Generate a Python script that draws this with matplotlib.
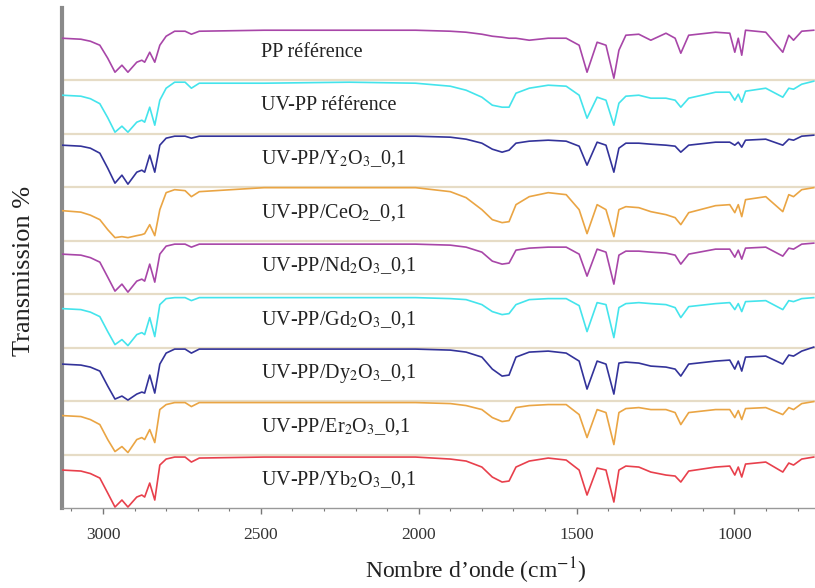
import numpy as np
import matplotlib
matplotlib.use('Agg')
import matplotlib.pyplot as plt
from matplotlib.ticker import MultipleLocator

plt.rcParams['font.family'] = ['Liberation Serif', 'DejaVu Serif']
plt.rcParams['mathtext.fontset'] = 'stix'

# wavenumber grid (cm-1) of the points
wavenumber = [3130, 3070, 3040, 3010, 2985, 2962, 2940, 2921, 2893, 2877, 2868, 2852, 2836, 2820, 2800,
              2773, 2740, 2720, 2695, 2490, 2220, 2010, 1900, 1850, 1800, 1767, 1736, 1714,
              1692, 1650, 1590, 1533, 1492, 1467, 1435, 1407, 1382, 1366, 1344, 1303, 1265,
              1217, 1188, 1170, 1145, 1060, 1015, 999, 988, 977, 965, 901, 847, 828, 813,
              787, 749]

# transmission (a.u.) of each sample, without the vertical offset
pp_ref = [42, 41, 39, 35, 22, 8, 15, 8, 18, 20, 18, 28, 18, 35, 44,
          49, 49, 46, 49, 50, 50, 50, 49, 48, 46, 44, 43, 42,
          42, 40, 42, 42, 35, 8, 38, 35, 2, 30, 45, 46, 40,
          47, 42, 27, 45, 48, 47, 28, 42, 25, 50, 48, 28, 45, 40,
          49, 50]
uvpp_ref = [38.5, 37.5, 35, 30, 16, 1.5, 7.5, 1.5, 11.5, 13.5, 11.5, 26.5, 8.5, 33.5, 45.5,
            51.5, 51.5, 45.5, 50.5, 50.5, 51.5, 50.5, 47.5, 43.5, 36.5, 28.5, 26.5, 26.5,
            40.5, 45.5, 48.5, 47.5, 38.5, 15.5, 36.5, 33.5, 8.5, 30.5, 37.5, 38.5, 35.5,
            35.5, 33.5, 26.5, 35.5, 41.5, 41.5, 33.5, 39.5, 31.5, 42.5, 45.5, 36.5, 45.5, 44.5,
            49.5, 52.5]
uvpp_y = [42, 41, 39, 34, 19, 4, 12, 3, 15, 17, 15, 32, 15, 42, 49,
          51, 51, 49, 51, 51, 51, 51, 50, 48, 44, 38, 35, 37,
          44, 46, 47, 46, 41, 22, 45, 42, 15, 39, 44, 44, 43,
          42, 41, 35, 42, 45, 45, 42, 45, 40, 47, 48, 42, 48, 47,
          51, 52]
uvpp_ce = [30, 28.5, 25.5, 21, 11, 3, 4, 3, 5, 6, 7, 16, 5, 31, 48,
           51, 50, 44, 49, 53, 53, 53, 49, 43, 31, 21, 18, 19,
           36, 44, 48, 46, 31, 7, 36, 31, 4, 31, 34, 33, 29,
           26, 23, 16, 28, 35, 36, 28, 36, 24, 41, 44, 29, 46, 44,
           51, 53]
uvpp_nd = [40, 39, 36.5, 32, 17, 3, 10, 2, 13, 15, 13, 30, 12, 40, 48,
           50, 50, 47, 50, 50, 50, 50, 49, 47, 42, 33, 30, 31,
           44, 46, 47, 47, 40, 18, 45, 42, 10, 39, 43, 43, 42,
           41, 39, 30, 40, 45, 45, 37, 44, 35, 46, 47, 38, 46, 45,
           50, 51]
uvpp_gd = [39, 38, 35.5, 31, 16, 3, 8, 2, 13, 15, 13, 30, 11, 43, 49,
           50, 50, 47, 50, 50, 50, 50, 49, 48, 43, 36, 33, 34,
           43, 48, 49, 49, 42, 16, 45, 43, 10, 40, 44, 45, 44,
           43, 40, 30, 41, 44, 45, 38, 44, 36, 46, 47, 38, 47, 46,
           49, 50]
uvpp_dy = [37, 36, 34, 30, 15, 2, 5, 1, 7, 9, 8, 26, 8, 37, 48,
           52, 52, 48, 52, 52, 52, 52, 51, 49, 44, 32, 25, 26,
           44, 49, 50, 48, 40, 12, 40, 37, 7, 38, 39, 38, 35,
           34, 32, 25, 37, 40, 41, 32, 40, 30, 44, 45, 37, 46, 45,
           50, 54]
uvpp_er = [39, 38, 35, 30, 15, 3, 8, 2, 15, 17, 15, 25, 12, 45, 50,
           52, 52, 48, 52, 52, 52, 52, 51, 49, 45, 37, 33, 34,
           47, 49, 50, 50, 40, 17, 45, 42, 10, 42, 46, 47, 45,
           45, 42, 30, 42, 45, 45, 37, 44, 35, 46, 47, 40, 47, 45,
           51, 53]
uvpp_yb = [38, 37, 34.5, 30, 15, 1, 8, 1, 11, 13, 11, 25, 8, 43, 49,
           51, 51, 46, 50, 51, 51, 51, 49, 47, 41, 31, 26, 27,
           41, 47, 50, 48, 38, 13, 40, 38, 6, 38, 42, 41, 36,
           33, 32, 26, 37, 41, 42, 33, 41, 31, 44, 46, 36, 45, 43,
           49, 51]

labels = ['PP référence', 'UV-PP référence', 'UV-PP/Y$_2$O$_3$_0,1', 'UV-PP/CeO$_2$_0,1',
          'UV-PP/Nd$_2$O$_3$_0,1', 'UV-PP/Gd$_2$O$_3$_0,1', 'UV-PP/Dy$_2$O$_3$_0,1',
          'UV-PP/Er$_2$O$_3$_0,1', 'UV-PP/Yb$_2$O$_3$_0,1']
spectra = [pp_ref, uvpp_ref, uvpp_y, uvpp_ce, uvpp_nd, uvpp_gd, uvpp_dy, uvpp_er, uvpp_yb]
colors = ['#a846a8', '#44e4ec', '#33339a', '#eaa544', '#a846a8', '#44e4ec', '#33339a',
          '#eaa544', '#e8404c']

step = 53.5
n = len(spectra)

fig = plt.figure(figsize=(8.15, 5.88), dpi=100)
ax = fig.add_axes([0.076, 0.136, 0.924, 0.850])

for i in range(n):
    offset = (n - 1 - i) * step
    ax.plot(wavenumber, np.array(spectra[i]) + offset, '-', color=colors[i], linewidth=1.2, zorder=3)
    ax.text(2500, offset + 23.5, labels[i], fontsize=14.5, color='#222222',
            ha='left', va='baseline', zorder=4)
    if i < n - 1:
        ax.axhline(offset, color='#e6dcc6', linewidth=1.6, zorder=1)

ax.set_xlim(3130, 745)
ax.set_ylim(0, 500)
ax.set_yticks([])
ax.xaxis.set_major_locator(MultipleLocator(500))
ax.xaxis.set_minor_locator(MultipleLocator(100))
ax.tick_params(axis='x', which='major', length=4, width=1, color='#777777',
               labelsize=12.5, labelcolor='#333333', pad=10)
ax.tick_params(axis='x', which='minor', length=2, width=0.8, color='#777777')

for side in ['top', 'right']:
    ax.spines[side].set_visible(False)
ax.spines['left'].set_color('#8a8a8a')
ax.spines['left'].set_linewidth(3)
ax.spines['bottom'].set_color('#999999')
ax.spines['bottom'].set_linewidth(1)

ax.set_xlabel('Nombre d\u2019onde (cm$^{-1}$)', fontsize=17, color='#222222')
ax.xaxis.set_label_coords(0.55, -0.095)
ax.set_ylabel('Transmission %', fontsize=19, color='#222222')
ax.yaxis.set_label_coords(-0.036, 0.474)

fig.savefig('out.png', dpi=100)
